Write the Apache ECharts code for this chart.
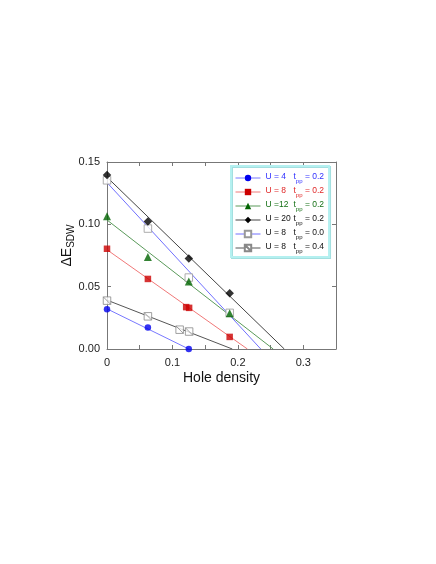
<!DOCTYPE html>
<html><head><meta charset="utf-8">
<script src="https://cdn.jsdelivr.net/npm/echarts@6/dist/echarts.min.js"></script>
<style>html,body{margin:0;padding:0;background:#fff}#c{width:436px;height:564px}</style>
</head><body><div id="c"></div>
<script>
// ---- data ----
const uLabels = ['U = 4', 'U = 8', 'U =12', 'U = 20', 'U = 8', 'U = 8'];
const tppLabels = ['0.2', '0.2', '0.2', '0.2', '0.0', '0.4'];

const x_u4 = [0, 0.0625, 0.125];
const y_u4 = [0.0318, 0.0172, 0.0];
const x_u8 = [0, 0.0625, 0.121, 0.1255, 0.1875];
const y_u8 = [0.0804, 0.0562, 0.0336, 0.0330, 0.0097];
const x_u12 = [0, 0.0625, 0.125, 0.1875];
const y_u12 = [0.1065, 0.0738, 0.0542, 0.0287];
const x_u20 = [0, 0.0625, 0.125, 0.1875];
const y_u20 = [0.1395, 0.1022, 0.0726, 0.0447];
const x_t00 = [0, 0.0625, 0.125, 0.1875];
const y_t00 = [0.1353, 0.0966, 0.0573, 0.0290];
const x_t04 = [0, 0.0625, 0.111, 0.1255];
const y_t04 = [0.0388, 0.0262, 0.0155, 0.0140];

// linear fit lines: start point and end point
const fit_u4 = [[0, 0.0322], [0.125, 0.0]];
const fit_u8 = [[0, 0.0796], [0.2146, 0]];
const fit_u12 = [[0, 0.1035], [0.254, 0]];
const fit_u20 = [[0, 0.1378], [0.271, 0]];
const fit_t00 = [[0, 0.1335], [0.235, 0]];
const fit_t04 = [[0, 0.0392], [0.1915, 0]];

const xTickLabels = ['0', '0.1', '0.2', '0.3'];
const yTickLabels = ['0.00', '0.05', '0.10', '0.15'];

// ---- styles ----
const groups = [
  {x: x_u4, y: y_u4, fit: fit_u4, symbol: 'circle', size: 6.5, fill: '#0000ee', stroke: '#0000ee', line: '#7878ff', text: '#3030ff', z: 6},
  {x: x_u8, y: y_u8, fit: fit_u8, symbol: 'rect', size: 6.5, fill: '#cc0000', stroke: '#cc0000', line: '#f07878', text: '#e02828', z: 6},
  {x: x_u12, y: y_u12, fit: fit_u12, symbol: 'triangle', size: 8, fill: '#006400', stroke: '#006400', line: '#5a9a5a', text: '#157015', z: 6},
  {x: x_u20, y: y_u20, fit: fit_u20, symbol: 'diamond', size: 8.5, fill: '#000', stroke: '#000', line: '#444', text: '#111', z: 6},
  {x: x_t00, y: y_t00, fit: fit_t00, symbol: 'rect', size: 7.5, fill: '#fff', stroke: '#999', line: '#7070ff', text: '#111', z: 5},
  {x: x_t04, y: y_t04, fit: fit_t04, symbol: 'path://M0,0 L10,0 L10,10 L0,10 Z M0,0 L10,10', size: 7.5, fill: '#fff', stroke: '#888', line: '#555', text: '#111', z: 5}
];

const FONT = 'Liberation Sans';
const LFS = 8.5;
const mctx = document.createElement('canvas').getContext('2d');
mctx.font = LFS + 'px "' + FONT + '"';

const series = [];
const rich = {};
groups.forEach((g, i) => {
  const name = 's' + i;
  const itemStyle = {color: g.fill, borderColor: g.stroke, borderWidth: (g.fill === '#fff') ? 1 : 0};
  series.push({
    name, type: 'line', symbol: g.symbol, symbolSize: g.size, itemStyle,
    lineStyle: {color: g.line, width: 1}, silent: true, z: 2,
    data: g.fit.map(p => ({value: p, symbol: 'none'}))
  });
  series.push({
    name, type: 'scatter', symbol: g.symbol, symbolSize: g.size, itemStyle, z: g.z, silent: true,
    data: g.x.map((xv, k) => [xv, g.y[k]])
  });
  const uw = mctx.measureText(uLabels[i]).width;
  const padR = Math.max(0, 28 - uw);
  rich['u' + i] = {color: g.text, fontSize: LFS, fontFamily: FONT, lineHeight: 12, verticalAlign: 'top', padding: [0, padR, 0, 0]};
  rich['t' + i] = {color: g.text, fontSize: LFS, fontFamily: FONT, lineHeight: 12, verticalAlign: 'top'};
  rich['s' + i] = {color: g.text, fontSize: 6, fontFamily: FONT, lineHeight: 9, verticalAlign: 'bottom'};
  rich['v' + i] = {color: g.text, fontSize: LFS, fontFamily: FONT, lineHeight: 12, verticalAlign: 'top'};
});

const axisCommon = {
  type: 'value',
  axisLine: {show: true, onZero: false, lineStyle: {color: '#777', width: 1}},
  axisTick: {show: true, inside: true, length: 4, lineStyle: {color: '#777'}},
  splitLine: {show: false}
};

const chart = echarts.init(document.getElementById('c'), null, {renderer: 'canvas'});
chart.setOption({
  animation: false,
  backgroundColor: '#fff',
  textStyle: {fontFamily: FONT},
  grid: {left: 107, right: 100, top: 162, bottom: 215},
  xAxis: [
    Object.assign({}, axisCommon, {
      position: 'bottom', min: 0, max: 0.35, interval: 0.05,
      axisLabel: {margin: 8, fontSize: 11, color: '#222', fontFamily: FONT,
        formatter: v => { const k = Math.round(v / 0.1 * 1000) / 1000; return Number.isInteger(k) && k < xTickLabels.length ? xTickLabels[k] : ''; }},
      name: 'Hole density', nameLocation: 'middle', nameGap: 22, nameMoveOverlap: false,
      nameTextStyle: {fontSize: 14, color: '#111', fontFamily: FONT}
    }),
    Object.assign({}, axisCommon, {position: 'top', min: 0, max: 0.35, interval: 0.05, axisLabel: {show: false}})
  ],
  yAxis: [
    Object.assign({}, axisCommon, {
      position: 'left', min: 0, max: 0.15, interval: 0.05,
      axisLabel: {margin: 7, fontSize: 11, color: '#222', fontFamily: FONT,
        formatter: v => yTickLabels[Math.round(v / 0.05)] || ''},
      name: '{a|ΔE}{s|SDW}', nameLocation: 'middle', nameGap: 31, nameRotate: 90, nameMoveOverlap: false,
      nameTextStyle: {padding: [0, 0, 0, 20], rich: {
        a: {fontSize: 14, color: '#111', lineHeight: 16, verticalAlign: 'top', fontFamily: FONT},
        s: {fontSize: 10, color: '#111', lineHeight: 10, verticalAlign: 'bottom', fontFamily: FONT}
      }}
    }),
    Object.assign({}, axisCommon, {position: 'right', min: 0, max: 0.15, interval: 0.05, axisLabel: {show: false}})
  ],
  legend: {
    orient: 'vertical', left: 231, top: 166,
    padding: [6, 5, 3, 4], itemGap: 2, itemWidth: 25, itemHeight: 8,
    backgroundColor: '#fff', borderColor: '#b4f0f0', borderWidth: 2,
    shadowColor: 'rgba(140,215,215,0.8)', shadowBlur: 0, shadowOffsetX: 1, shadowOffsetY: 1,
    selectedMode: false,
    lineStyle: {width: 1},
    data: groups.map((g, i) => 's' + i),
    formatter: name => {
      const i = +name.slice(1);
      return `{u${i}|${uLabels[i]}}{t${i}|t}{s${i}|pp}{v${i}| = ${tppLabels[i]}}`;
    },
    textStyle: {fontFamily: FONT, fontSize: LFS, rich}
  },
  series
});
</script></body></html>
